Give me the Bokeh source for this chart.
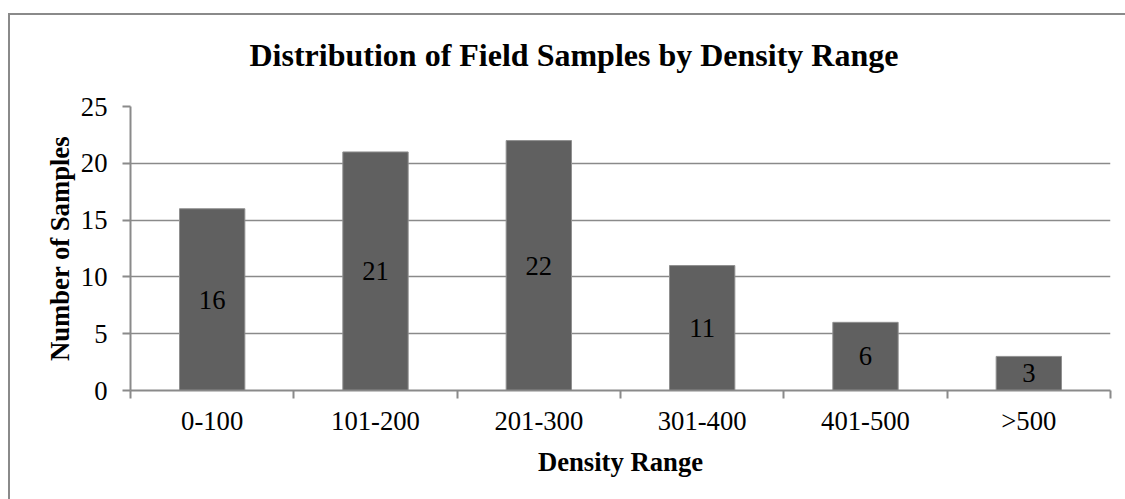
from bokeh.plotting import figure
from bokeh.models import Range1d, FixedTicker, Title, ColumnDataSource
from bokeh.core.properties import value
from bokeh.embed import file_html
from bokeh.resources import INLINE

# Sample counts per density bin
categories = ["0-100", "101-200", "201-300", "301-400", "401-500", ">500"]
counts = [16, 21, 22, 11, 6, 3]
y_ticks = [0, 5, 10, 15, 20, 25]

SERIF = "Liberation Serif"
GRAY = "#8a8a8a"
BAR = "#606060"

centers = [i + 0.5 for i in range(len(categories))]
src = ColumnDataSource(dict(
    x=centers,
    top=counts,
    label_y=[c / 2 for c in counts],
    label=[str(c) for c in counts],
))

p = figure(width=1125, height=499, output_backend="svg", toolbar_location=None,
           x_range=Range1d(0, len(categories)), y_range=Range1d(0, 25),
           min_border_left=130, min_border_right=15,
           min_border_top=105, min_border_bottom=109,
           background_fill_color=None, border_fill_color=None)
p.outline_line_color = None

# transparent canvas over a white page; the chart border (top and left
# edges, the other two run past the page) is painted behind it
line = f"linear-gradient({GRAY}, {GRAY})"
p.styles = {
    "background": (f"{line} 8px 13px / 2px 100% no-repeat, "
                   f"{line} 8px 13px / 100% 2px no-repeat, #ffffff"),
    "position": "absolute",
    "left": "0px",
    "top": "0px",
}

title = Title(text="Distribution of Field Samples by Density Range",
              text_font=SERIF, text_font_size="24pt", text_font_style="bold",
              text_color="black", align="left", offset=119, standoff=68)
p.add_layout(title, "above")

p.vbar(x="x", top="top", width=0.4, source=src,
       fill_color=BAR, line_color="#909090", line_width=1)
p.text(x="x", y="label_y", text="label", source=src,
       text_font=value(SERIF), text_font_size="20pt", text_color="black",
       text_align="center", text_baseline="middle")

# x axis: labels at bin centres, tick marks at bin boundaries
xa = p.xaxis[0]
xa.ticker = FixedTicker(ticks=centers, minor_ticks=list(range(len(categories) + 1)))
xa.major_label_overrides = {c: lab for c, lab in zip(centers, categories)}
xa.major_tick_out = 0
xa.major_tick_in = 0
xa.minor_tick_out = 8
xa.minor_tick_in = 0
xa.minor_tick_line_color = GRAY
xa.minor_tick_line_width = 2
xa.axis_line_color = GRAY
xa.axis_line_width = 2
xa.major_label_standoff = 7
xa.major_label_text_font = SERIF
xa.major_label_text_font_size = "20pt"
xa.major_label_text_color = "black"
xa.axis_label = "Density Range"
xa.axis_label_text_font = SERIF
xa.axis_label_text_font_size = "20pt"
xa.axis_label_text_font_style = "bold"
xa.axis_label_text_color = "black"
xa.axis_label_standoff = 8

ya = p.yaxis[0]
ya.ticker = FixedTicker(ticks=y_ticks)
ya.minor_tick_line_color = None
ya.major_tick_out = 8
ya.major_tick_in = 0
ya.major_tick_line_color = GRAY
ya.major_tick_line_width = 2
ya.axis_line_color = GRAY
ya.axis_line_width = 2
ya.major_label_standoff = 15
ya.major_label_text_font = SERIF
ya.major_label_text_font_size = "20pt"
ya.major_label_text_color = "black"
ya.axis_label = "Number of Samples"
ya.axis_label_text_font = SERIF
ya.axis_label_text_font_size = "20pt"
ya.axis_label_text_font_style = "bold"
ya.axis_label_text_color = "black"
ya.axis_label_standoff = 3

p.xgrid.visible = False
p.ygrid.ticker = FixedTicker(ticks=y_ticks)
p.ygrid.grid_line_color = GRAY
p.ygrid.grid_line_width = 1.5

open("out.html", "w").write(file_html(p, INLINE))
